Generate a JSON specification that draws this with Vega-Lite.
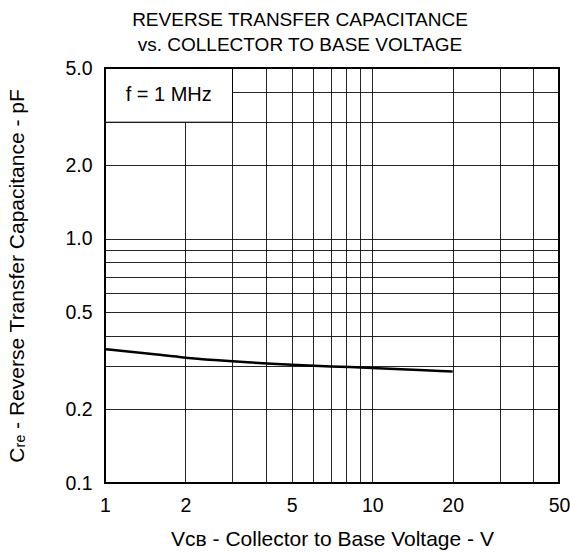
{
  "$schema": "https://vega.github.io/schema/vega-lite/v6.json",
  "width": 454,
  "height": 415,
  "autosize": {"type": "none"},
  "padding": {"left": 105, "top": 68, "right": 11, "bottom": 71},
  "config": {
    "view": {"stroke": null},
    "font": "Liberation Sans",
    "axis": {
      "grid": true,
      "gridColor": "#000000",
      "gridOpacity": 0.85,
      "gridWidth": 1,
      "ticks": false,
      "tickSize": 0,
      "domain": false,
      "labelFont": "Liberation Sans",
      "labelFontSize": 19.5,
      "labelColor": "#000000",
      "titleFont": "Liberation Sans",
      "titleFontSize": 21,
      "titleFontWeight": "normal",
      "titleColor": "#000000"
    }
  },
  "title": {
    "text": ["REVERSE TRANSFER CAPACITANCE", "vs. COLLECTOR TO BASE VOLTAGE"],
    "font": "Liberation Sans",
    "fontSize": 19,
    "fontWeight": "normal",
    "color": "#000000",
    "anchor": "middle",
    "dx": -32,
    "offset": 3,
    "lineHeight": 25
  },
  "datasets": {
    "curve": [
      {"vcb": 1, "cre": 0.353},
      {"vcb": 1.5, "cre": 0.337},
      {"vcb": 2, "cre": 0.326},
      {"vcb": 3, "cre": 0.315},
      {"vcb": 5, "cre": 0.305},
      {"vcb": 7, "cre": 0.300},
      {"vcb": 10, "cre": 0.296},
      {"vcb": 15, "cre": 0.290},
      {"vcb": 20, "cre": 0.286}
    ],
    "box": [
      {"x1": 1, "x2": 3, "y1": 3, "y2": 5, "tx": 1.732, "ty": 3.873, "label": "f = 1 MHz"}
    ],
    "frame": [
      {"x1": 1, "x2": 50, "y1": 0.1, "y2": 5}
    ]
  },
  "layer": [
    {
      "data": {"name": "curve"},
      "mark": {"type": "line", "color": "#000000", "strokeWidth": 2.5, "interpolate": "monotone"},
      "encoding": {
        "x": {
          "field": "vcb",
          "type": "quantitative",
          "scale": {"type": "log", "domain": [1, 50], "nice": false},
          "axis": {
            "values": [1, 2, 3, 4, 5, 6, 7, 8, 9, 10, 20, 30, 40, 50],
            "labelExpr": "indexof([1, 2, 5, 10, 20, 50], datum.value) >= 0 ? datum.label : ''",
            "format": "d",
            "labelPadding": 13,
            "labelFlush": false,
            "labelOverlap": false,
            "title": "Vᴄʙ - Collector to Base Voltage - V",
            "titlePadding": 14
          }
        },
        "y": {
          "field": "cre",
          "type": "quantitative",
          "scale": {"type": "log", "domain": [0.1, 5], "nice": false},
          "axis": {
            "values": [0.1, 0.2, 0.3, 0.4, 0.5, 0.6, 0.7, 0.8, 0.9, 1, 2, 3, 4, 5],
            "labelExpr": "indexof([0.1, 0.2, 0.5, 1, 2, 5], datum.value) >= 0 ? datum.label : ''",
            "format": ".1f",
            "labelPadding": 13,
            "labelFlush": false,
            "labelOverlap": false,
            "title": "Cᵣₑ - Reverse Transfer Capacitance - pF",
            "titlePadding": 37
          }
        }
      }
    },
    {
      "data": {"name": "box"},
      "mark": {"type": "rect", "fill": "#ffffff", "stroke": "#000000", "strokeWidth": 1},
      "encoding": {
        "x": {"field": "x1", "type": "quantitative"},
        "x2": {"field": "x2"},
        "y": {"field": "y1", "type": "quantitative"},
        "y2": {"field": "y2"}
      }
    },
    {
      "data": {"name": "box"},
      "mark": {"type": "text", "font": "Liberation Sans", "fontSize": 20, "color": "#000000", "align": "center", "baseline": "middle"},
      "encoding": {
        "x": {"field": "tx", "type": "quantitative"},
        "y": {"field": "ty", "type": "quantitative"},
        "text": {"field": "label"}
      }
    },
    {
      "data": {"name": "frame"},
      "mark": {"type": "rect", "fill": null, "filled": false, "stroke": "#000000", "strokeWidth": 2},
      "encoding": {
        "x": {"field": "x1", "type": "quantitative"},
        "x2": {"field": "x2"},
        "y": {"field": "y1", "type": "quantitative"},
        "y2": {"field": "y2"}
      }
    }
  ]
}
